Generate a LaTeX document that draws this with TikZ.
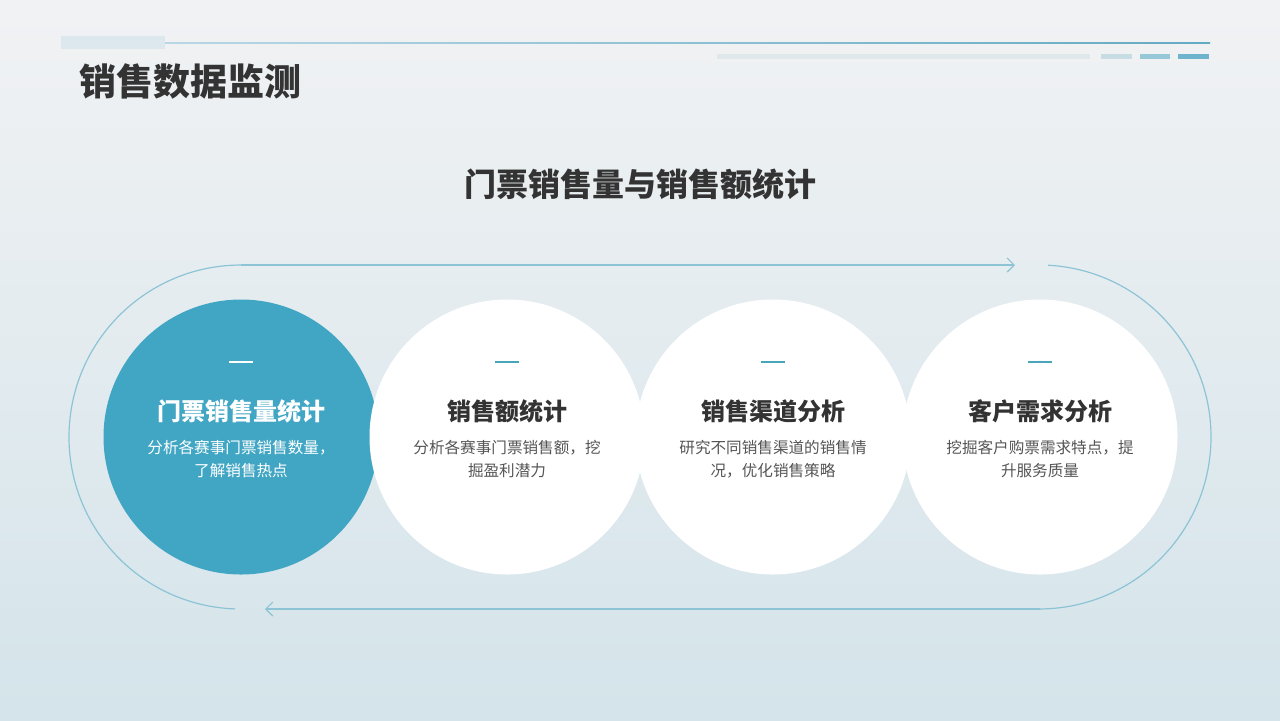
\documentclass[tikz,border=0pt]{standalone}
\usepackage{fontspec}
\setmainfont{Noto Sans CJK SC}
\usepackage{xcolor}
\definecolor{bgtop}{RGB}{241,242,244}
\definecolor{bgmid}{RGB}{234,238,241}
\definecolor{bgbot}{RGB}{212,228,234}
\definecolor{highlight}{RGB}{64,166,196}
\definecolor{track}{RGB}{140,196,214}
\definecolor{dashc}{RGB}{70,165,185}
\definecolor{darktext}{RGB}{51,51,51}
\definecolor{greytext}{RGB}{85,85,85}
\usetikzlibrary{arrows.meta}
\usetikzlibrary{positioning}

\tikzset{
  ball/.style={circle, minimum size=137.5pt, inner sep=0pt},
  balltitle/.style={font=\fontsize{12pt}{14pt}\selectfont\bfseries, inner sep=0pt},
  balltext/.style={font=\fontsize{7.8pt}{11.5pt}\selectfont, align=center, inner sep=0pt},
  trackline/.style={track, line width=0.6pt},
  tip/.style={-{Straight Barb[length=3.5pt, width=7pt]}}
}

\begin{document}
\begin{tikzpicture}[x=0.5pt, y=-0.5pt]
\shade[top color=bgtop, middle color=bgmid, bottom color=bgbot] (0,0) rectangle (1280,720);
\useasboundingbox (0,0) rectangle (1280,720);

% header
\fill[color={rgb,255:red,220;green,232;blue,238}] (61,36) rectangle (165,49);
\shade[left color={rgb,255:red,185;green,215;blue,228}, right color={rgb,255:red,100;green,170;blue,195}] (165,42.2) rectangle (1210,43.8);
\fill[color={rgb,255:red,225;green,232;blue,236}] (717,54) rectangle (1090,59);
\fill[color={rgb,255:red,200;green,220;blue,228}] (1101,54) rectangle (1132,59);
\fill[color={rgb,255:red,150;green,200;blue,215}] (1140,54) rectangle (1170,59);
\fill[color={rgb,255:red,110;green,180;blue,205}] (1178,54) rectangle (1209,59);

\node(title)[anchor=west, inner sep=0pt, text=darktext, font=\fontsize{18.5pt}{20pt}\selectfont\bfseries] at (79,81) {销售数据监测};
\node(subtitle)[inner sep=0pt, text=darktext, font=\fontsize{16pt}{18pt}\selectfont\bfseries] at (640,184) {门票销售量与销售额统计};

% track
\coordinate (topL) at (241,265);
\coordinate (topR) at (1015,265);
\coordinate (botR) at (1040,609);
\coordinate (botL) at (265,609);
\draw[trackline] (235,608.9) arc[start angle=92, end angle=270, radius=172] -- (topL);
\draw[trackline, tip] (topL) -- (topR);
\draw[trackline] (1048,265.2) arc[start angle=273, end angle=450, radius=172];
\draw[trackline, tip] (botR) -- (botL);

% circles
\node(c1)[ball, fill=highlight] at (241,437) {};
\node(c2)[ball, fill=white] at (507,437) {};
\node(c3)[ball, fill=white] at (773,437) {};
\node(c4)[ball, fill=white] at (1040,437) {};

\foreach \n/\x/\head/\body in {
  1/241/门票销售量统计/{分析各赛事门票销售数量，\\了解销售热点},
  2/507/销售额统计/{分析各赛事门票销售额，挖\\掘盈利潜力},
  3/773/销售渠道分析/{研究不同销售渠道的销售情\\况，优化销售策略},
  4/1040/客户需求分析/{挖掘客户购票需求特点，提\\升服务质量}}{
  \ifnum\n=1
    \def\headc{white}\def\bodyc{white}\def\dashcol{white}
  \else
    \def\headc{darktext}\def\bodyc{greytext}\def\dashcol{dashc}
  \fi
  \draw[\dashcol, line width=0.8pt] (\x-12,362) -- (\x+12,362);
  \node(h\n)[balltitle, text=\headc] at (\x,411) {\head};
  \node(b\n)[balltext, text=\bodyc] at (\x,459.5) {\body};
}
\end{tikzpicture}
\end{document}
